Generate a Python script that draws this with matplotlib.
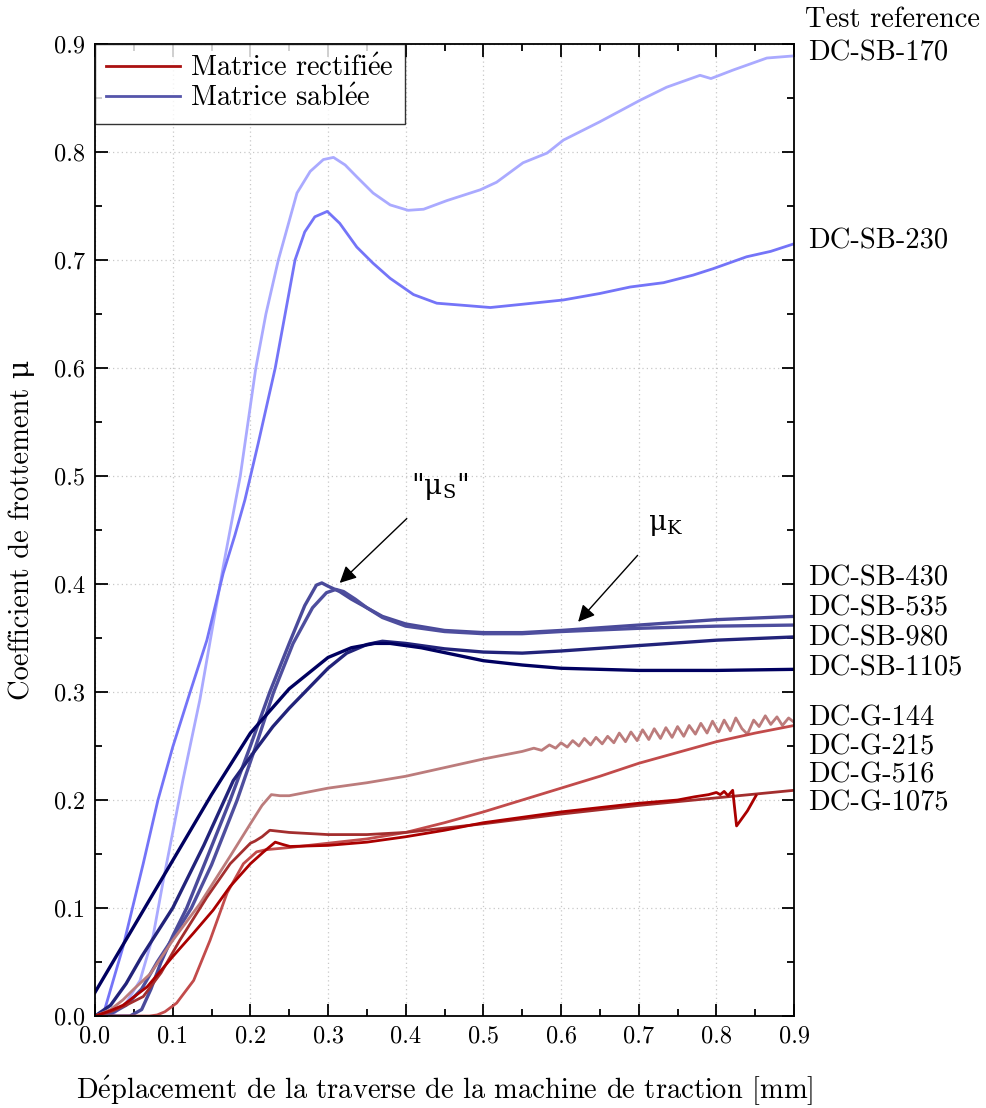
import numpy as np
import matplotlib.pyplot as plt
from matplotlib.ticker import MultipleLocator, FormatStrFormatter
from matplotlib.lines import Line2D
from matplotlib.transforms import blended_transform_factory

plt.rcParams['font.family'] = ['cmr10', 'DejaVu Serif']
plt.rcParams['mathtext.fontset'] = 'cm'

# ---- data (displacement [mm], friction coefficient) ----
x_sb170 = [0.02, 0.04, 0.058, 0.075, 0.088, 0.1, 0.113, 0.135, 0.165, 0.187, 0.207, 0.22, 0.236,
           0.26, 0.277, 0.294, 0.307, 0.322, 0.337, 0.358, 0.38, 0.403, 0.423, 0.453, 0.496, 0.517,
           0.551, 0.582, 0.603, 0.65, 0.702, 0.736, 0.779, 0.793, 0.822, 0.865, 0.9]
y_sb170 = [0.0, 0.012, 0.033, 0.075, 0.126, 0.17, 0.218, 0.293, 0.416, 0.5, 0.6, 0.65, 0.7,
           0.762, 0.782, 0.793, 0.795, 0.788, 0.777, 0.762, 0.751, 0.746, 0.747, 0.755, 0.765, 0.772,
           0.79, 0.799, 0.811, 0.828, 0.848, 0.86, 0.871, 0.868, 0.876, 0.887, 0.889]

x_sb230 = [0.01, 0.036, 0.062, 0.081, 0.1, 0.122, 0.144, 0.165, 0.18, 0.193, 0.21, 0.232, 0.2575,
           0.27, 0.283, 0.299, 0.315, 0.337, 0.358, 0.38, 0.41, 0.44, 0.475, 0.509, 0.55, 0.603,
           0.65, 0.689, 0.732, 0.77, 0.796, 0.839, 0.87, 0.9]
y_sb230 = [0.0, 0.064, 0.141, 0.2, 0.249, 0.299, 0.348, 0.41, 0.445, 0.478, 0.53, 0.6, 0.7,
           0.726, 0.74, 0.745, 0.734, 0.712, 0.697, 0.683, 0.668, 0.66, 0.658, 0.656, 0.659, 0.663,
           0.669, 0.675, 0.679, 0.686, 0.692, 0.703, 0.708, 0.715]

x_sb430 = [0.0, 0.045, 0.06, 0.072, 0.085, 0.1, 0.118, 0.145, 0.174, 0.2, 0.225, 0.25, 0.27, 0.285,
           0.292, 0.3, 0.315, 0.33, 0.35, 0.37, 0.4, 0.45, 0.5, 0.55, 0.6, 0.7, 0.8, 0.9]
y_sb430 = [0.0, 0.0, 0.006, 0.025, 0.05, 0.074, 0.1, 0.148, 0.2, 0.25, 0.3, 0.345, 0.38, 0.399,
           0.401, 0.398, 0.393, 0.386, 0.378, 0.37, 0.363, 0.357, 0.355, 0.355, 0.357, 0.362, 0.367, 0.37]

x_sb535 = [0.0, 0.02, 0.04, 0.06, 0.08, 0.1, 0.124, 0.15, 0.183, 0.207, 0.23, 0.255, 0.28, 0.298,
           0.31, 0.32, 0.335, 0.35, 0.37, 0.4, 0.45, 0.5, 0.55, 0.6, 0.7, 0.8, 0.9]
y_sb535 = [0.0, 0.002, 0.01, 0.025, 0.05, 0.072, 0.1, 0.14, 0.2, 0.25, 0.3, 0.345, 0.378, 0.392,
           0.395, 0.393, 0.386, 0.378, 0.369, 0.361, 0.356, 0.354, 0.354, 0.356, 0.359, 0.361, 0.362]

x_sb980 = [0.0, 0.02, 0.04, 0.06, 0.1, 0.14, 0.178, 0.2, 0.229, 0.25, 0.277, 0.3, 0.324, 0.35,
           0.37, 0.4, 0.45, 0.5, 0.55, 0.6, 0.7, 0.8, 0.9]
y_sb980 = [0.0, 0.01, 0.03, 0.055, 0.1, 0.158, 0.218, 0.24, 0.268, 0.285, 0.305, 0.322, 0.336, 0.344,
           0.347, 0.345, 0.34, 0.337, 0.336, 0.338, 0.343, 0.348, 0.351]

x_sb1105 = [0.0, 0.05, 0.1, 0.15, 0.2, 0.25, 0.3, 0.33, 0.36, 0.38, 0.42, 0.46, 0.5, 0.55, 0.6,
            0.65, 0.7, 0.8, 0.9]
y_sb1105 = [0.022, 0.083, 0.144, 0.205, 0.262, 0.303, 0.332, 0.341, 0.345, 0.345, 0.341, 0.335,
            0.329, 0.325, 0.322, 0.321, 0.32, 0.32, 0.321]

x_g144 = [0.0, 0.02, 0.036, 0.05, 0.071, 0.1, 0.135, 0.174, 0.2, 0.215, 0.227, 0.238, 0.25, 0.3,
          0.35, 0.4, 0.45, 0.5, 0.55, 0.565, 0.575, 0.585, 0.593,
          0.600, 0.608, 0.615, 0.623, 0.630, 0.638, 0.645, 0.653, 0.660, 0.668, 0.675, 0.683,
          0.690, 0.698, 0.705, 0.713, 0.720, 0.728, 0.735, 0.743, 0.750, 0.758, 0.765, 0.773,
          0.780, 0.788, 0.795, 0.803, 0.810, 0.818, 0.825, 0.833, 0.840, 0.848, 0.855, 0.863,
          0.870, 0.878, 0.885, 0.893, 0.900]
y_g144 = [0.0, 0.006, 0.015, 0.025, 0.039, 0.07, 0.104, 0.148, 0.178, 0.195, 0.205, 0.204, 0.204,
          0.211, 0.216, 0.222, 0.23, 0.238, 0.245, 0.248, 0.246, 0.251, 0.248,
          0.253, 0.249, 0.255, 0.250, 0.257, 0.251, 0.258, 0.252, 0.259, 0.253, 0.262, 0.254,
          0.263, 0.255, 0.265, 0.256, 0.266, 0.257, 0.267, 0.258, 0.268, 0.259, 0.269, 0.261,
          0.271, 0.262, 0.273, 0.263, 0.274, 0.264, 0.276, 0.266, 0.261, 0.274, 0.268, 0.278,
          0.270, 0.277, 0.269, 0.276, 0.272]

x_g215 = [0.0, 0.04, 0.07, 0.08, 0.09, 0.105, 0.127, 0.148, 0.17, 0.191, 0.208, 0.22, 0.25, 0.3,
          0.35, 0.4, 0.45, 0.5, 0.55, 0.6, 0.65, 0.7, 0.75, 0.8, 0.85, 0.9]
y_g215 = [0.0, 0.0, 0.0, 0.001, 0.004, 0.012, 0.033, 0.07, 0.114, 0.141, 0.152, 0.154, 0.156, 0.16,
          0.164, 0.17, 0.179, 0.189, 0.2, 0.211, 0.222, 0.234, 0.244, 0.254, 0.262, 0.269]

x_g516 = [0.0, 0.02, 0.04, 0.062, 0.085, 0.109, 0.144, 0.174, 0.2, 0.206, 0.215, 0.225, 0.25, 0.3,
          0.35, 0.4, 0.45, 0.5, 0.6, 0.7, 0.8, 0.9]
y_g516 = [0.0, 0.004, 0.01, 0.018, 0.04, 0.07, 0.11, 0.141, 0.16, 0.162, 0.166, 0.172, 0.17, 0.168,
          0.168, 0.17, 0.174, 0.178, 0.187, 0.195, 0.202, 0.209]

x_g1075 = [0.0, 0.02, 0.036, 0.067, 0.1, 0.127, 0.152, 0.174, 0.2, 0.217, 0.232, 0.241, 0.251, 0.3,
           0.35, 0.4, 0.45, 0.5, 0.6, 0.7, 0.75, 0.772, 0.79, 0.8, 0.805, 0.81, 0.815, 0.821, 0.826,
           0.84, 0.851]
y_g1075 = [0.0, 0.005, 0.01, 0.027, 0.055, 0.077, 0.098, 0.12, 0.141, 0.152, 0.161, 0.159, 0.157,
           0.158, 0.161, 0.166, 0.172, 0.179, 0.189, 0.197, 0.2, 0.203, 0.205, 0.207, 0.205, 0.208,
           0.204, 0.209, 0.176, 0.19, 0.204]

test_names = ['DC-SB-170', 'DC-SB-230', 'DC-SB-430', 'DC-SB-535', 'DC-SB-980', 'DC-SB-1105',
              'DC-G-144', 'DC-G-215', 'DC-G-516', 'DC-G-1075']
name_levels = [0.8917, 0.7176, 0.4056, 0.3778, 0.35, 0.3222, 0.2759, 0.249, 0.2231, 0.1972]

# e-acute drawn through mathtext so it stays in Computer Modern
E_ACUTE = r'$\acute{\mathrm{e}}$'

# ---- figure ----
fig = plt.figure(figsize=(9.87, 11.08), dpi=100)
ax = fig.add_axes([0.0963, 0.083, 0.7082, 0.8773])

lw = 2.0
ax.plot(x_sb170, y_sb170, color='#aaaaff', lw=lw)
ax.plot(x_sb230, y_sb230, color='#7474f8', lw=lw)
ax.plot(x_sb430, y_sb430, color='#4a4a9a', lw=2.4)
ax.plot(x_sb535, y_sb535, color='#4e4e9e', lw=2.4)
ax.plot(x_sb980, y_sb980, color='#22237a', lw=2.4)
ax.plot(x_sb1105, y_sb1105, color='#000060', lw=2.4)
ax.plot(x_g144, y_g144, color='#bc7c7c', lw=lw)
ax.plot(x_g215, y_g215, color='#c24b4b', lw=lw)
ax.plot(x_g516, y_g516, color='#a32e2e', lw=lw)
ax.plot(x_g1075, y_g1075, color='#aa0000', lw=lw)

ax.set_xlim(0, 0.9)
ax.set_ylim(0, 0.9)
ax.xaxis.set_major_locator(MultipleLocator(0.1))
ax.xaxis.set_minor_locator(MultipleLocator(0.05))
ax.yaxis.set_major_locator(MultipleLocator(0.1))
ax.yaxis.set_minor_locator(MultipleLocator(0.05))
ax.xaxis.set_major_formatter(FormatStrFormatter('%.1f'))
ax.yaxis.set_major_formatter(FormatStrFormatter('%.1f'))
ax.tick_params(which='both', direction='in', top=True, right=True, labelsize=17.5)
ax.tick_params(which='major', length=9, width=1.3, pad=7)
ax.tick_params(which='minor', length=5, width=1.3)
for s in ax.spines.values():
    s.set_linewidth(1.3)
ax.grid(True, which='major', color='#c8c8c8', linestyle=(0, (1, 2.5)), linewidth=0.9)

ax.set_xlabel('D' + E_ACUTE + 'placement de la traverse de la machine de traction [mm]',
              fontsize=20.5, labelpad=18)
ax.set_ylabel('Coefficient de frottement μ', fontsize=20.5, labelpad=14)

# annotations
arrow = dict(arrowstyle='-|>', color='black', lw=1.0, mutation_scale=25, shrinkA=14, shrinkB=0)
t1 = ax.annotate('"$\\mathrm{\\mu}_{\\mathrm{S}}$"', xy=(0.315, 0.401), xytext=(0.444, 0.49),
                 fontsize=20, ha='center', va='center', family='DejaVu Serif', arrowprops=arrow)
t1.set_math_fontfamily('dejavuserif')
t2 = ax.annotate('$\\mathrm{\\mu}_{\\mathrm{K}}$', xy=(0.622, 0.365), xytext=(0.734, 0.455),
                 fontsize=20, ha='center', va='center', family='DejaVu Serif', arrowprops=arrow)
t2.set_math_fontfamily('dejavuserif')

# test references on the right
tr = blended_transform_factory(ax.transAxes, ax.transData)
ax.text(1.015, 0.922, 'Test reference', transform=tr, fontsize=20.5, va='center', ha='left',
        clip_on=False)
for name, lev in zip(test_names, name_levels):
    ax.text(1.02, lev, name, transform=tr, fontsize=20.5, va='center', ha='left', clip_on=False)

handles = [Line2D([], [], color='#aa1111', lw=2.0), Line2D([], [], color='#5555aa', lw=2.0)]
leg = ax.legend(handles, ['Matrice rectifi' + E_ACUTE + 'e', 'Matrice sabl' + E_ACUTE + 'e'],
                loc='upper left', fontsize=20.5, frameon=True, fancybox=False, borderaxespad=0,
                handlelength=2.6, handletextpad=0.35, borderpad=0.4, labelspacing=0.1)
leg.get_frame().set_edgecolor('black')
leg.get_frame().set_linewidth(1.0)

fig.savefig('out.png', dpi=100)
